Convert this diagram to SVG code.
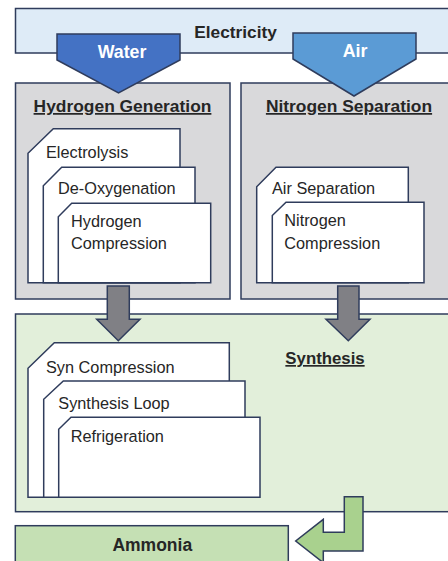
<svg xmlns="http://www.w3.org/2000/svg" width="448" height="561" viewBox="0 0 448 561">
<style>
.box{stroke:#2f3c5c;stroke-width:1.5}
.card{fill:#fff;stroke:#2f3c5c;stroke-width:1.5}
.t{font-family:"Liberation Sans",Arial,sans-serif;fill:#262626}
.title{font-size:17.4px;font-weight:bold;text-decoration:underline}
.lbl{font-size:16.3px}
.w{fill:#fff;font-weight:bold;font-size:17.8px}
.arr{fill:#808085;stroke:#2f3c5c;stroke-width:1.5}
</style>
<rect width="448" height="561" fill="#fff"/>
<g id="electricity">
<rect class="box" x="15.5" y="8.5" width="450" height="44.5" fill="#deebf7"/>
<text class="t" x="235.5" y="38" text-anchor="middle" font-size="17.3" font-weight="bold">Electricity</text>
</g>
<g id="hydrogen">
<rect class="box" x="15.5" y="83" width="214.5" height="216" fill="#d9d9db"/>
<text class="t title" x="122.5" y="112" text-anchor="middle">Hydrogen Generation</text>
</g>
<g id="nitrogen">
<rect class="box" x="241" y="83" width="230" height="216" fill="#d9d9db"/>
<text class="t title" x="349" y="112" text-anchor="middle">Nitrogen Separation</text>
</g>
<g id="water">
<polygon points="57,34 180,34 180,60 118.5,93 57,60" fill="#4472c4" stroke="#2f3c5c" stroke-width="1.5"/>
<text class="t w" x="122" y="58" text-anchor="middle">Water</text>
</g>
<g id="air">
<polygon points="293,33 416,33 416,59 354,96 293,59" fill="#5b9bd5" stroke="#2f3c5c" stroke-width="1.5"/>
<text class="t w" x="355" y="57" text-anchor="middle">Air</text>
</g>
<g id="electrolysis">
<path class="card" d="M53.3,128.7 H180 V282.7 H28 V153.3 Z"/>
<text class="t lbl" x="46" y="158">Electrolysis</text>
</g>
<g id="deoxygenation">
<path class="card" d="M61.7,167.3 H195 V282.7 H43.3 V185.7 Z"/>
<text class="t lbl" x="58" y="194">De-Oxygenation</text>
</g>
<g id="hydrogen-compression">
<path class="card" d="M71.7,203.3 H210.7 V282.7 H58.3 V216.7 Z"/>
<text class="t lbl" x="71" y="226.7">Hydrogen</text>
<text class="t lbl" x="71" y="249.3">Compression</text>
</g>
<g id="air-separation">
<path class="card" d="M276,167.3 H408.3 V282.7 H256.7 V186.7 Z"/>
<text class="t lbl" x="272" y="194">Air Separation</text>
</g>
<g id="nitrogen-compression">
<path class="card" d="M286,202.3 H424 V282.7 H272.3 V215.5 Z"/>
<text class="t lbl" x="284.3" y="226">Nitrogen</text>
<text class="t lbl" x="284.3" y="249">Compression</text>
</g>
<g id="synthesis">
<rect class="box" x="15.5" y="314" width="450" height="197.7" fill="#e2efda"/>
<text class="t" x="325" y="364" text-anchor="middle" font-size="16.8" font-weight="bold" text-decoration="underline">Synthesis</text>
</g>
<g id="connectors">
<polygon class="arr" points="107.3,286 129.3,286 129.3,319.3 140,319.3 118.3,340.7 96.7,319.3 107.3,319.3"/>
<polygon class="arr" points="337.7,286 359,286 359,319.3 370,319.3 348.3,340.7 326,319.3 337.7,319.3"/>
</g>
<g id="syn-compression">
<path class="card" d="M54.3,342.7 H229.3 V497.3 H28 V368.3 Z"/>
<text class="t lbl" x="46" y="373.3">Syn Compression</text>
</g>
<g id="synthesis-loop">
<path class="card" d="M63.3,381 H245 V497.3 H43.7 V399.3 Z"/>
<text class="t lbl" x="58.3" y="409">Synthesis Loop</text>
</g>
<g id="refrigeration">
<path class="card" d="M71,417.3 H260 V497.3 H58.7 V429.3 Z"/>
<text class="t lbl" x="70.7" y="441.7">Refrigeration</text>
</g>
<g id="ammonia">
<rect class="box" x="15.3" y="525.7" width="273" height="50" fill="#c5e0b4"/>
<text class="t" x="152.3" y="550.7" text-anchor="middle" font-size="17.5" font-weight="bold">Ammonia</text>
</g>
<g id="connectors-out">
<polygon points="344.3,496.7 363,496.7 363,551 323.3,551 323.3,562.7 295.7,541 323.3,519.3 323.3,532.3 344.3,532.3" fill="#a9d18e" stroke="#2f3c5c" stroke-width="1.5"/>
</g>
</svg>
